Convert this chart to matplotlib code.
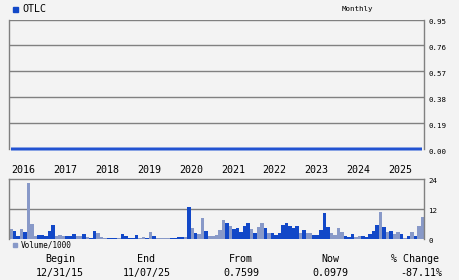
import matplotlib
matplotlib.use("Agg")
import matplotlib.pyplot as plt
import matplotlib.transforms as mtransforms
import pandas as pd

# ---- data ----
symbol = "OTLC"
period = "Monthly"
months = pd.period_range("2015-12", "2025-10", freq="M")
volume = [3.8, 3.0, 1.0, 3.8, 2.6, 22.4, 5.8, 1.0, 1.4, 1.4,
          1.0, 3.0, 5.4, 1.0, 1.4, 1.0, 1.0, 1.0, 1.8, 1.0,
          1.0, 1.8, 0.65, 0.3, 3.0, 2.2, 0.65, 0.3, 0.3, 0.3,
          0.3, 0.3, 1.8, 1.0, 0.3, 0.3, 1.4, 0.3, 0.65, 0.3,
          2.6, 1.0, 0.3, 0.2, 0.2, 0.3, 0.2, 0.2, 0.65, 0.65,
          0.65, 12.9, 4.2, 2.2, 1.8, 8.2, 3.0, 1.0, 1.0, 1.45,
          3.4, 7.4, 6.2, 5.0, 3.8, 4.2, 2.6, 5.0, 6.2, 3.8,
          2.2, 4.6, 6.2, 4.2, 2.2, 2.2, 1.45, 2.2, 5.4, 6.2,
          5.0, 4.2, 5.0, 2.2, 3.4, 2.2, 2.2, 1.45, 1.45, 3.4,
          10.5, 4.6, 2.2, 1.45, 4.2, 2.6, 1.05, 0.65, 1.8, 0.65,
          1.05, 1.05, 0.65, 1.8, 3.0, 5.4, 10.9, 4.6, 2.6, 3.0,
          1.8, 2.6, 1.8, 0.3, 1.05, 2.6, 1.05, 5.0, 8.9]
# D = dark (up month), L = light (down month)
shade = list("LDDLDLLLDD" "DDDLLLDDDL" "LDLDDLLLDD" "DLDDDDDLLD" "LDLLLLDDDD"
             "LDLDLLDLLL" "LLDLDDDDDL" "DLLDLDDDDD" "DDDLDLLDDD" "DDLLLLDDDL"
             "LDDDDDLDLD" "LLDLDLDLL")
price_x = [0, len(months) - 1]
price_y = [0.0, 0.0]
price_ticks = [0.00, 0.19, 0.38, 0.57, 0.76, 0.95]
vol_ticks = [0, 12, 24]
years = list(range(2016, 2026))
bottom_labels = [("Begin", "12/31/15"), ("End", "11/07/25"), ("From", "0.7599"),
                 ("Now", "0.0979"), ("% Change", "-87.11%")]

# ---- style ----
BG = "#f3f3f3"
GRID = "#808080"
DARK = "#1248c8"
LIGHT = "#8899c8"
MONO = "DejaVu Sans Mono"

W, H = 460, 280
fig = plt.figure(figsize=(W / 100, H / 100), dpi=100, facecolor=BG)

def fx(px):
    return px / W

def fy(py):
    return 1 - py / H

L, R = 9.3, 424.0
n = len(months)

# price axes
ax = fig.add_axes([fx(L), fy(149.3), fx(R - L), fy(19.5) - fy(149.3)])
ax.set_facecolor(BG)
ax.set_xlim(-0.5, n - 0.5)
ax.set_ylim(0, 0.95)
for t in price_ticks[1:]:
    ax.axhline(t, color=GRID, lw=1.0, zorder=1)
ax.plot(price_x, price_y, color="#6f8fe0", lw=2.6, solid_capstyle="butt", zorder=3, clip_on=False)
ax.plot(price_x, price_y, color="#1a4cd0", lw=1.3, solid_capstyle="butt", zorder=4, clip_on=False)
for s in ["top", "bottom"]:
    ax.spines[s].set_visible(False)
for s in ["left", "right"]:
    ax.spines[s].set_color(GRID)
    ax.spines[s].set_linewidth(1.0)
ax.set_xticks([])
ax.yaxis.tick_right()
ax.set_yticks(price_ticks)
ax.set_yticklabels([f"{t:.2f}" for t in price_ticks], fontsize=5.4, family=MONO)
ax.tick_params(axis="y", length=0, pad=3)
for lab in ax.get_yticklabels():
    lab.set_verticalalignment("top")

# volume axes
axv = fig.add_axes([fx(L), fy(238.8), fx(R - L), fy(179.3) - fy(238.8)])
axv.set_facecolor(BG)
axv.set_xlim(-0.5, n - 0.5)
axv.set_ylim(0, 24)
colors = [DARK if s == "D" else LIGHT for s in shade]
axv.bar(range(n), volume, width=1.0, color=colors, linewidth=0, zorder=2)
axv.axhline(12, color=GRID, lw=1.0, zorder=1)
axv.spines["bottom"].set_visible(False)
for s in ["left", "right", "top"]:
    axv.spines[s].set_color(GRID)
    axv.spines[s].set_linewidth(1.0)
axv.set_xticks([])
axv.yaxis.tick_right()
axv.set_yticks(vol_ticks)
axv.set_yticklabels([str(t) for t in vol_ticks], fontsize=5.4, family=MONO)
axv.tick_params(axis="y", length=0, pad=3)
offset = mtransforms.ScaledTranslation(0, -1.5 / 100, fig.dpi_scale_trans)
for lab in axv.get_yticklabels():
    lab.set_transform(lab.get_transform() + offset)

# year labels
trans = mtransforms.blended_transform_factory(axv.transData, fig.transFigure)
for y in years:
    idx = list(months).index(pd.Period(f"{y}-01", freq="M"))
    axv.text(idx - 0.8, fy(170), str(y), transform=trans, fontsize=7.2, family=MONO,
             ha="left", va="center", color="black")

# header
fig.patches.append(plt.Rectangle((fx(13), fy(11.7)), fx(4.7), fy(7) - fy(11.7),
                                 transform=fig.transFigure, color=DARK))
fig.text(fx(22.5), fy(9.5), symbol, fontsize=7.2, family=MONO, ha="left", va="center")
fig.text(fx(357), fy(9), period, fontsize=5.4, family=MONO, ha="center", va="center")

# volume legend
fig.patches.append(plt.Rectangle((fx(13), fy(247.3)), fx(4), fy(243.3) - fy(247.3),
                                 transform=fig.transFigure, color=LIGHT))
fig.text(fx(20.5), fy(245.3), "Volume/1000", fontsize=5.6, family=MONO, ha="left", va="center")

# bottom summary
centers = [60, 146.5, 241, 330, 415]
for (top, bot), cx in zip(bottom_labels, centers):
    fig.text(fx(cx), fy(259), top, fontsize=7.2, family=MONO, ha="center", va="center")
    fig.text(fx(cx + (6 if top == "% Change" else 0)), fy(272.7), bot, fontsize=7.2,
             family=MONO, ha="center", va="center")

fig.savefig("out.png", dpi=100, facecolor=BG)
